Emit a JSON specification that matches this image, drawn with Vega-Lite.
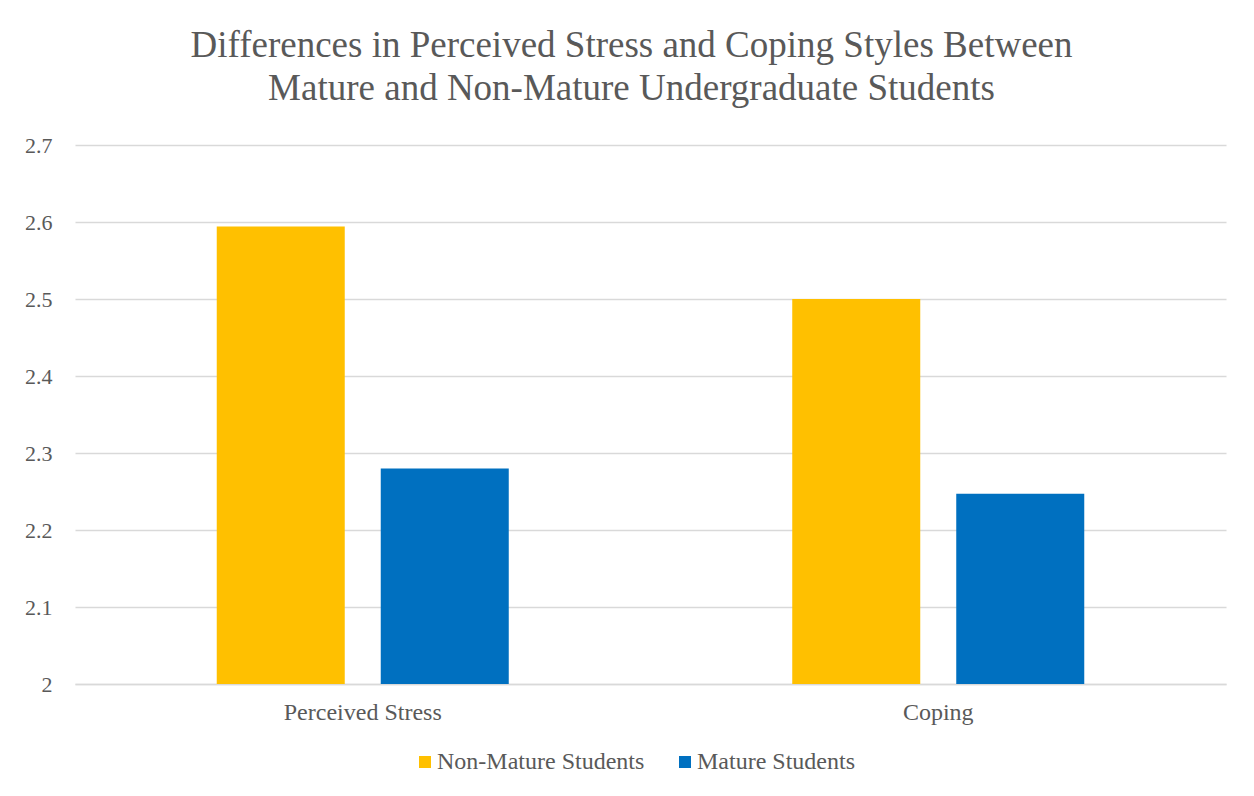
{
  "$schema": "https://vega.github.io/schema/vega-lite/v6.json",
  "width": 1151,
  "height": 539,
  "autosize": {"type": "none"},
  "padding": {"left": 75, "top": 145, "right": 28, "bottom": 112},
  "background": "white",
  "title": {
    "text": ["Differences in Perceived Stress and Coping Styles Between", "Mature and Non-Mature Undergraduate Students"],
    "font": "Liberation Serif",
    "fontSize": 37,
    "fontWeight": "normal",
    "color": "#595959",
    "anchor": "middle",
    "frame": "group",
    "dx": -19,
    "offset": 26,
    "lineHeight": 43
  },
  "data": {
    "values": [
      {"measure": "Perceived Stress", "group": "Non-Mature Students", "value": 2.594},
      {"measure": "Perceived Stress", "group": "Mature Students", "value": 2.28},
      {"measure": "Coping", "group": "Non-Mature Students", "value": 2.5},
      {"measure": "Coping", "group": "Mature Students", "value": 2.247}
    ]
  },
  "mark": {"type": "bar", "clip": true},
  "encoding": {
    "x": {
      "field": "measure",
      "type": "nominal",
      "sort": ["Perceived Stress", "Coping"],
      "scale": {"paddingInner": 0.4926, "paddingOuter": 0.2463},
      "axis": {
        "title": null,
        "labelAngle": 0,
        "labelFont": "Liberation Serif",
        "labelFontSize": 24,
        "labelColor": "#595959",
        "labelPadding": 16,
        "ticks": false,
        "domainColor": "#D9D9D9",
        "domainWidth": 1.5,
        "grid": false
      }
    },
    "xOffset": {
      "field": "group",
      "type": "nominal",
      "sort": ["Non-Mature Students", "Mature Students"],
      "scale": {"paddingInner": 0.2195, "paddingOuter": 0}
    },
    "y": {
      "field": "value",
      "type": "quantitative",
      "scale": {"domain": [2, 2.7], "zero": false, "nice": false},
      "axis": {
        "title": null,
        "values": [2, 2.1, 2.2, 2.3, 2.4, 2.5, 2.6, 2.7],
        "format": "~g",
        "labelFont": "Liberation Serif",
        "labelFontSize": 22,
        "labelColor": "#595959",
        "labelPadding": 23,
        "ticks": false,
        "domain": false,
        "gridColor": "#D9D9D9",
        "gridWidth": 1.5
      }
    },
    "y2": {"datum": 2},
    "color": {
      "field": "group",
      "type": "nominal",
      "sort": ["Non-Mature Students", "Mature Students"],
      "scale": {"domain": ["Non-Mature Students", "Mature Students"], "range": ["#FFC000", "#0070C0"]},
      "legend": {
        "title": null,
        "orient": "none",
        "legendX": 338,
        "legendY": 605,
        "direction": "horizontal",
        "symbolType": "square",
        "symbolSize": 144,
        "symbolStrokeWidth": 0,
        "labelFont": "Liberation Serif",
        "labelFontSize": 24,
        "labelColor": "#595959",
        "labelOffset": 0,
        "labelLimit": 400,
        "columnPadding": 28
      }
    }
  },
  "config": {"view": {"stroke": null}}
}
